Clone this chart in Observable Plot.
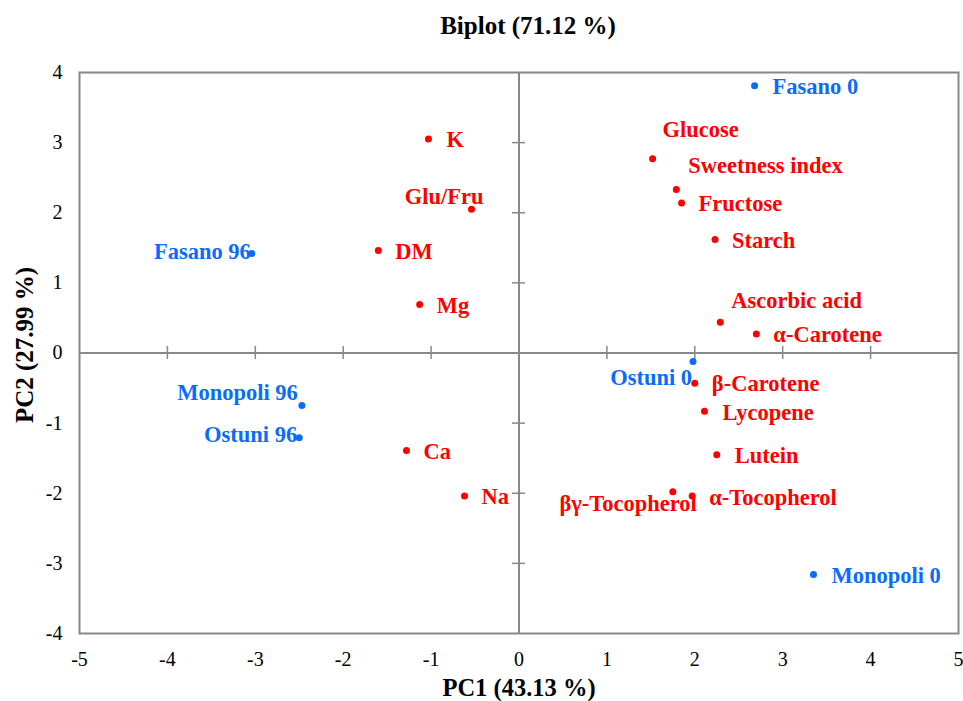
<!DOCTYPE html>
<html>
<head>
<meta charset="utf-8">
<script src="https://cdn.jsdelivr.net/npm/d3@7"></script>
<script src="https://cdn.jsdelivr.net/npm/@observablehq/plot@0.6"></script>
<style>
  html, body { margin: 0; padding: 0; background: #fff; }
</style>
</head>
<body>
<div id="chart"></div>
<script>
// ---- Data ----
const chartTitle = "Biplot (71.12 %)";
const xLabel = "PC1 (43.13 %)";
const yLabel = "PC2 (27.99 %)";

const xTicks = [-5, -4, -3, -2, -1, 0, 1, 2, 3, 4, 5];
const yTicks = [-4, -3, -2, -1, 0, 1, 2, 3, 4];

// Observations (blue)
const obsNames = ["Fasano 0", "Fasano 96", "Monopoli 96", "Ostuni 96", "Ostuni 0", "Monopoli 0"];
const obsPC1   = [2.68, -3.04, -2.47, -2.50, 1.98, 3.35];
const obsPC2   = [3.81, 1.42, -0.75, -1.21, -0.12, -3.16];

// Variables (red)
const varNames = ["K", "Glu/Fru", "DM", "Mg", "Ca", "Na", "Glucose", "Sweetness index",
  "Fructose", "Starch", "Ascorbic acid", "α-Carotene", "β-Carotene", "Lycopene",
  "Lutein", "βγ-Tocopherol", "α-Tocopherol"];
const varPC1 = [-1.03, -0.54, -1.60, -1.13, -1.28, -0.62, 1.52, 1.79,
  1.85, 2.23, 2.29, 2.70, 2.00, 2.11, 2.25, 1.75, 1.97];
const varPC2 = [3.05, 2.05, 1.46, 0.69, -1.39, -2.04, 2.77, 2.33,
  2.14, 1.62, 0.44, 0.27, -0.43, -0.83, -1.45, -1.98, -2.04];

// ---- Label placement (style, kept apart from data) ----
const obsLabelPlace = [
  ["start", 18, 1], ["end", -1, -2], ["end", -4, -13], ["end", -2, -3], ["end", -1, 16], ["start", 18, 1]
];
const varLabelPlace = [
  ["start", 18, 1], ["end", 12, -12], ["start", 17, 1], ["start", 17, 1], ["start", 17, 1], ["start", 17, 1],
  ["start", 10, -29], ["start", 12, -24], ["start", 17, 1], ["start", 17, 1], ["start", 11, -21],
  ["start", 17, 1], ["start", 17, 1], ["start", 18, 2], ["start", 18, 1], ["end", 24, 12], ["start", 17, 2]
];

const BLUE = "#0a6cff";
const RED = "#ff0000";
const GRAY = "#888888";
const SERIF = "'Liberation Serif', 'Times New Roman', serif";

const obs = obsNames.map((n, i) => ({name: n, pc1: obsPC1[i], pc2: obsPC2[i]}));
const vars = varNames.map((n, i) => ({name: n, pc1: varPC1[i], pc2: varPC2[i]}));

const labelMarks = (rows, place, color) => rows.map((d, i) => Plot.text([d], {
  x: "pc1", y: "pc2", text: "name",
  textAnchor: place[i][0], dx: place[i][1], dy: place[i][2],
  fill: color, fontWeight: "bold", fontSize: 22.5, fontFamily: SERIF
}));

const innerXTicks = xTicks.filter(t => t !== xTicks[0] && t !== xTicks[xTicks.length - 1] && t !== 0);
const innerYTicks = yTicks.filter(t => t !== yTicks[0] && t !== yTicks[yTicks.length - 1] && t !== 0);

const chart = Plot.plot({
  width: 963,
  height: 701,
  marginTop: 72,
  marginBottom: 68,
  marginLeft: 79,
  marginRight: 5,
  style: {fontFamily: SERIF, fontSize: "20px", color: "#000", background: "#fff"},
  x: {domain: [xTicks[0], xTicks[xTicks.length - 1]]},
  y: {domain: [yTicks[0], yTicks[yTicks.length - 1]]},
  marks: [
    Plot.frame({stroke: GRAY, strokeWidth: 2}),
    Plot.ruleX([0], {stroke: GRAY, strokeWidth: 2}),
    Plot.ruleY([0], {stroke: GRAY, strokeWidth: 2}),
    Plot.ruleX(innerXTicks, {x: d => d, y1: 0, y2: 0, insetTop: -6.5, insetBottom: -6.5, stroke: GRAY, strokeWidth: 1.5}),
    Plot.ruleY(innerYTicks, {y: d => d, x1: 0, x2: 0, insetLeft: -6.5, insetRight: -6.5, stroke: GRAY, strokeWidth: 1.5}),
    Plot.axisX({ticks: xTicks, tickSize: 0, tickPadding: 18, fontSize: 20, label: null, fill: "#000", tickFormat: d => String(d)}),
    Plot.axisY({ticks: yTicks, tickSize: 0, tickPadding: 17, fontSize: 20, label: null, fill: "#000", tickFormat: d => String(d)}),
    Plot.dot(vars, {x: "pc1", y: "pc2", r: 3.5, fill: RED}),
    Plot.dot(obs, {x: "pc1", y: "pc2", r: 3.5, fill: BLUE}),
    ...labelMarks(vars, varLabelPlace, RED),
    ...labelMarks(obs, obsLabelPlace, BLUE),
    Plot.text([chartTitle], {text: d => d, frameAnchor: "top", lineAnchor: "middle", dx: 9, dy: -47, fontSize: 25, fontWeight: "bold", fill: "#000"}),
    Plot.text([xLabel], {text: d => d, frameAnchor: "bottom", lineAnchor: "middle", dy: 55, fontSize: 24.5, fontWeight: "bold", fill: "#000"}),
    Plot.text([yLabel], {text: d => d, frameAnchor: "left", textAnchor: "middle", lineAnchor: "middle", dx: -55, dy: -8, rotate: -90, fontSize: 25, fontWeight: "bold", fill: "#000"})
  ]
});

document.getElementById("chart").appendChild(chart);
</script>
</body>
</html>
